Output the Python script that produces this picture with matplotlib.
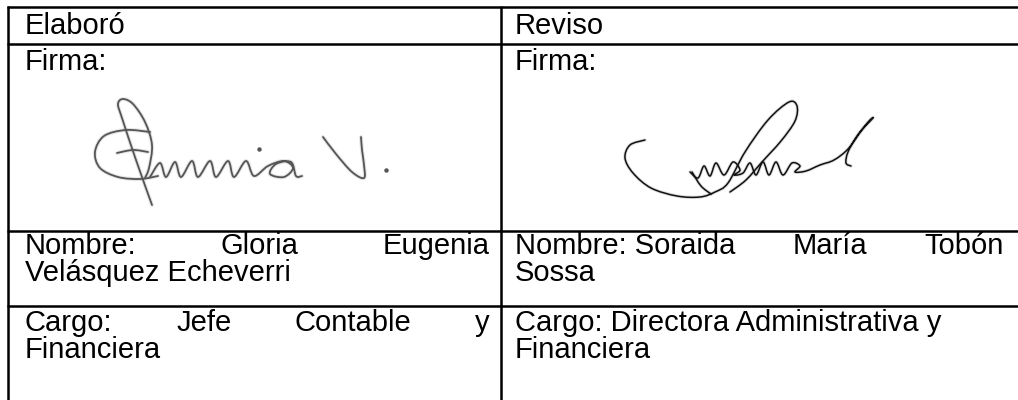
import numpy as np
import matplotlib
matplotlib.use('Agg')
import matplotlib.pyplot as plt
from matplotlib.path import Path
from matplotlib.patches import PathPatch

# Contenido de la tabla
encabezados = ['Elaboró', 'Reviso']
etiqueta_firma = 'Firma:'
nombre_izq = [['Nombre:', 'Gloria', 'Eugenia'], 'Velásquez Echeverri']
nombre_der = [['Nombre: Soraida', 'María', 'Tobón'], 'Sossa']
cargo_izq = [['Cargo:', 'Jefe', 'Contable', 'y'], 'Financiera']
cargo_der = ['Cargo: Directora Administrativa y', 'Financiera']

# Trazos aproximados de las firmas (coordenadas en pixeles de la imagen)
firma_izq = [
    [(152, 205), (136, 160), (122, 118), (118, 104), (123, 99), (133, 104), (145, 122), (152, 145), (149, 168), (145, 178)],
    [(150, 132), (126, 130), (104, 136), (95, 152), (100, 168), (118, 177), (140, 179), (158, 176)],
    [(117, 153), (133, 150), (148, 152)],
    [(150, 177), (160, 163), (166, 177), (175, 162), (181, 177), (192, 161), (198, 177), (210, 161),
     (216, 177), (228, 161), (234, 177), (246, 161), (254, 176), (268, 166), (284, 161), (293, 168),
     (284, 177), (270, 174), (276, 164), (291, 162), (296, 176), (302, 176)],
    [(323, 137), (336, 154), (352, 172), (364, 178), (364, 165), (362, 150), (361, 137)],
]
puntos_izq = [(386, 170), (259, 149)]

firma_der = [
    [(645, 140), (630, 145), (625, 158), (633, 173), (651, 188), (677, 196), (700, 197), (715, 192),
     (728, 183), (745, 152), (768, 120), (789, 102), (797, 106), (795, 121), (781, 141), (762, 162),
     (746, 180), (730, 192)],
    [(692, 172), (701, 186), (711, 194)],
    [(690, 172), (698, 178), (704, 166), (710, 176), (716, 163), (724, 175), (733, 162), (740, 170),
     (734, 175), (743, 173), (750, 163), (756, 175), (763, 162), (769, 175), (776, 162), (783, 175),
     (792, 163), (800, 166), (795, 172), (806, 171), (820, 165), (834, 160), (848, 149), (862, 130),
     (873, 118), (869, 121), (857, 136), (848, 152), (846, 163), (851, 166)],
]

FUENTE = dict(family='Liberation Sans', fontsize=21, color='black', va='baseline')


def trazo_suave(pts):
    pts = np.asarray(pts, float)
    verts = [pts[0]]
    codes = [Path.MOVETO]
    for i in range(len(pts) - 1):
        p0 = pts[i - 1] if i > 0 else pts[i]
        p1 = pts[i]
        p2 = pts[i + 1]
        p3 = pts[i + 2] if i + 2 < len(pts) else pts[i + 1]
        verts += [p1 + (p2 - p0) / 6, p2 - (p3 - p1) / 6, p2]
        codes += [Path.CURVE4] * 3
    return Path(verts, codes)


def dibujar_firma(ax, trazos, puntos, color, lw):
    for t in trazos:
        ax.add_patch(PathPatch(trazo_suave(t), fill=False, edgecolor=color, lw=lw * 2.2,
                               alpha=0.15, capstyle='round', joinstyle='round'))
        ax.add_patch(PathPatch(trazo_suave(t), fill=False, edgecolor=color, lw=lw,
                               capstyle='round', joinstyle='round'))
    for p in puntos:
        ax.plot([p[0]], [p[1]], 'o', ms=2.2, color=color)


def justificado(ax, palabras, x0, x1, y):
    renderer = fig.canvas.get_renderer()
    textos = [ax.text(0, y, p, **FUENTE) for p in palabras]
    anchos = [t.get_window_extent(renderer).width for t in textos]
    hueco = (x1 - x0 - sum(anchos)) / (len(palabras) - 1)
    x = x0
    for t, w in zip(textos, anchos):
        t.set_x(x)
        x += w + hueco


fig = plt.figure(figsize=(10.18, 4.0), dpi=100)
ax = fig.add_axes([0, 0, 1, 1])
ax.set_xlim(0, 1018)
ax.set_ylim(400, 0)
ax.axis('off')

# Bordes de la tabla
lw_borde = 1.8
for y in [7, 44, 231, 306]:
    ax.plot([7, 1018], [y, y], color='black', lw=lw_borde, solid_capstyle='butt')
for x in [8, 501]:
    ax.plot([x, x], [6, 400], color='black', lw=lw_borde, solid_capstyle='butt')

xl, xr = 25, 515
xl_fin, xr_fin = 490, 1004

# Encabezados y firma
ax.text(xl, 34, encabezados[0], **FUENTE)
ax.text(xr, 34, encabezados[1], **FUENTE)
ax.text(xl, 70, etiqueta_firma, **FUENTE)
ax.text(xr, 70, etiqueta_firma, **FUENTE)

# Nombre
justificado(ax, nombre_izq[0], xl, xl_fin, 254)
ax.text(xl, 281, nombre_izq[1], **FUENTE)
justificado(ax, nombre_der[0], xr, xr_fin, 254)
ax.text(xr, 281, nombre_der[1], **FUENTE)

# Cargo
justificado(ax, cargo_izq[0], xl, xl_fin, 331)
ax.text(xl, 358, cargo_izq[1], **FUENTE)
ax.text(xr, 331, cargo_der[0], **FUENTE)
ax.text(xr, 358, cargo_der[1], **FUENTE)

dibujar_firma(ax, firma_izq, puntos_izq, '#555555', 1.3)
dibujar_firma(ax, firma_der, [], '#111111', 1.1)

fig.savefig('out.png', dpi=100, facecolor='white')
